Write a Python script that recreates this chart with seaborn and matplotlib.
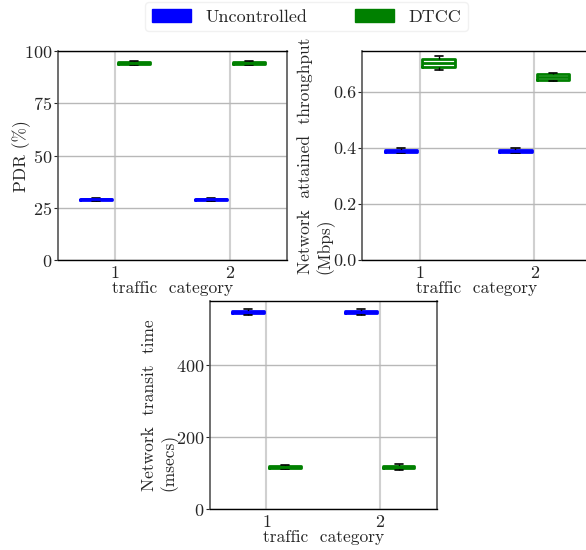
import numpy as np
import pandas as pd
import matplotlib
matplotlib.use('Agg')
import matplotlib.pyplot as plt
from matplotlib.patches import Patch
import seaborn as sns

categories = ['1', '2']
methods = ['Uncontrolled', 'DTCC']
colors = {'Uncontrolled': 'blue', 'DTCC': 'green'}

# per category: low whisker, q1, median, q3, high whisker
pdr_unc = [[28.3, 28.8, 29.1, 29.4, 29.9], [28.3, 28.8, 29.1, 29.4, 29.9]]
pdr_dtcc = [[93.5, 94.0, 94.4, 94.8, 95.4], [93.5, 94.0, 94.4, 94.8, 95.4]]
thr_unc = [[0.381, 0.387, 0.390, 0.393, 0.399], [0.381, 0.387, 0.390, 0.393, 0.399]]
thr_dtcc = [[0.678, 0.690, 0.703, 0.717, 0.727], [0.638, 0.642, 0.653, 0.664, 0.668]]
tt_unc = [[539, 545, 548, 551, 557], [539, 545, 548, 551, 557]]
tt_dtcc = [[111, 115, 117, 119, 123], [110, 114, 117, 120, 125]]

sns.set_style('whitegrid')
plt.rcParams['font.family'] = ['cmr10', 'DejaVu Serif']
plt.rcParams['mathtext.fontset'] = 'cm'
plt.rcParams['axes.formatter.use_mathtext'] = True


def make_df(unc, dtcc):
    rows = []
    for m, vals in zip(methods, [unc, dtcc]):
        for cat, v in zip(categories, vals):
            for x in v:
                rows.append({'cat': cat, 'method': m, 'value': x})
    return pd.DataFrame(rows)


fig = plt.figure(figsize=(5.86, 5.5), dpi=100)
ax1 = fig.add_axes([0.099, 0.527, 0.391, 0.380])
ax2 = fig.add_axes([0.618, 0.527, 0.392, 0.380])
ax3 = fig.add_axes([0.358, 0.0745, 0.387, 0.378])

panels = [
    (ax1, make_df(pdr_unc, pdr_dtcc), 'PDR (%)', (0, 100), [0, 25, 50, 75, 100], -5),
    (ax2, make_df(thr_unc, thr_dtcc), 'Network  attained  throughput\n(Mbps)', (0, 0.746), [0.0, 0.2, 0.4, 0.6], -1),
    (ax3, make_df(tt_unc, tt_dtcc), 'Network  transit  time\n(msecs)', (0, 579), [0, 200, 400], -2),
]

for ax, df, ylab, ylim, yt, lpad in panels:
    sns.boxplot(data=df, x='cat', y='value', hue='method', palette=colors,
                fill=False, width=0.66, gap=0.15, whis=(0, 100), linewidth=2,
                whiskerprops=dict(color='k', linewidth=1),
                capprops=dict(color='k', linewidth=1.2),
                legend=False, ax=ax)
    # caps half as wide as the boxes
    for ln in ax.lines:
        x, y = ln.get_xdata(), ln.get_ydata()
        if len(x) == 2 and y[0] == y[1] and ln.get_color() in ('k', 'black', (0, 0, 0, 1)):
            c = (x[0] + x[1]) / 2
            h = (x[1] - x[0]) / 4
            ln.set_xdata([c - h, c + h])
    ax.set_ylim(*ylim)
    ax.set_yticks(yt)
    if ylim[1] < 1:
        ax.set_yticklabels([f'{v:.1f}' for v in yt])
    ax.set_xlim(-0.5, 1.5)
    ax.set_xlabel('traffic  category', fontsize=12.5, labelpad=0)
    ax.set_ylabel(ylab, fontsize=12.5, multialignment='left', labelpad=lpad)
    ax.tick_params(axis='both', labelsize=13, length=3, width=0.8, direction='out',
                   left=True, bottom=False, pad=1)
    ax.grid(True, color='#b8b8b8', linewidth=1)
    ax.xaxis.grid(True, color='#d0d0d0', linewidth=1.5)
    ax.set_axisbelow(True)
    for s in ['top', 'bottom']:
        ax.spines[s].set_color('black')
        ax.spines[s].set_linewidth(1)
    for s in ['left', 'right']:
        ax.spines[s].set_color('#555555')
        ax.spines[s].set_linewidth(1.2)

handles = [Patch(facecolor=colors[m], edgecolor=colors[m], label=m) for m in methods]
fig.legend(handles=handles, loc='upper center', bbox_to_anchor=(0.523, 1.012), ncol=2,
           fontsize=13, frameon=True, handlelength=2.2, handleheight=0.75,
           columnspacing=2.6, borderpad=0.35, edgecolor='#eeeeee', fancybox=True)

fig.savefig('out.png', dpi=100)
